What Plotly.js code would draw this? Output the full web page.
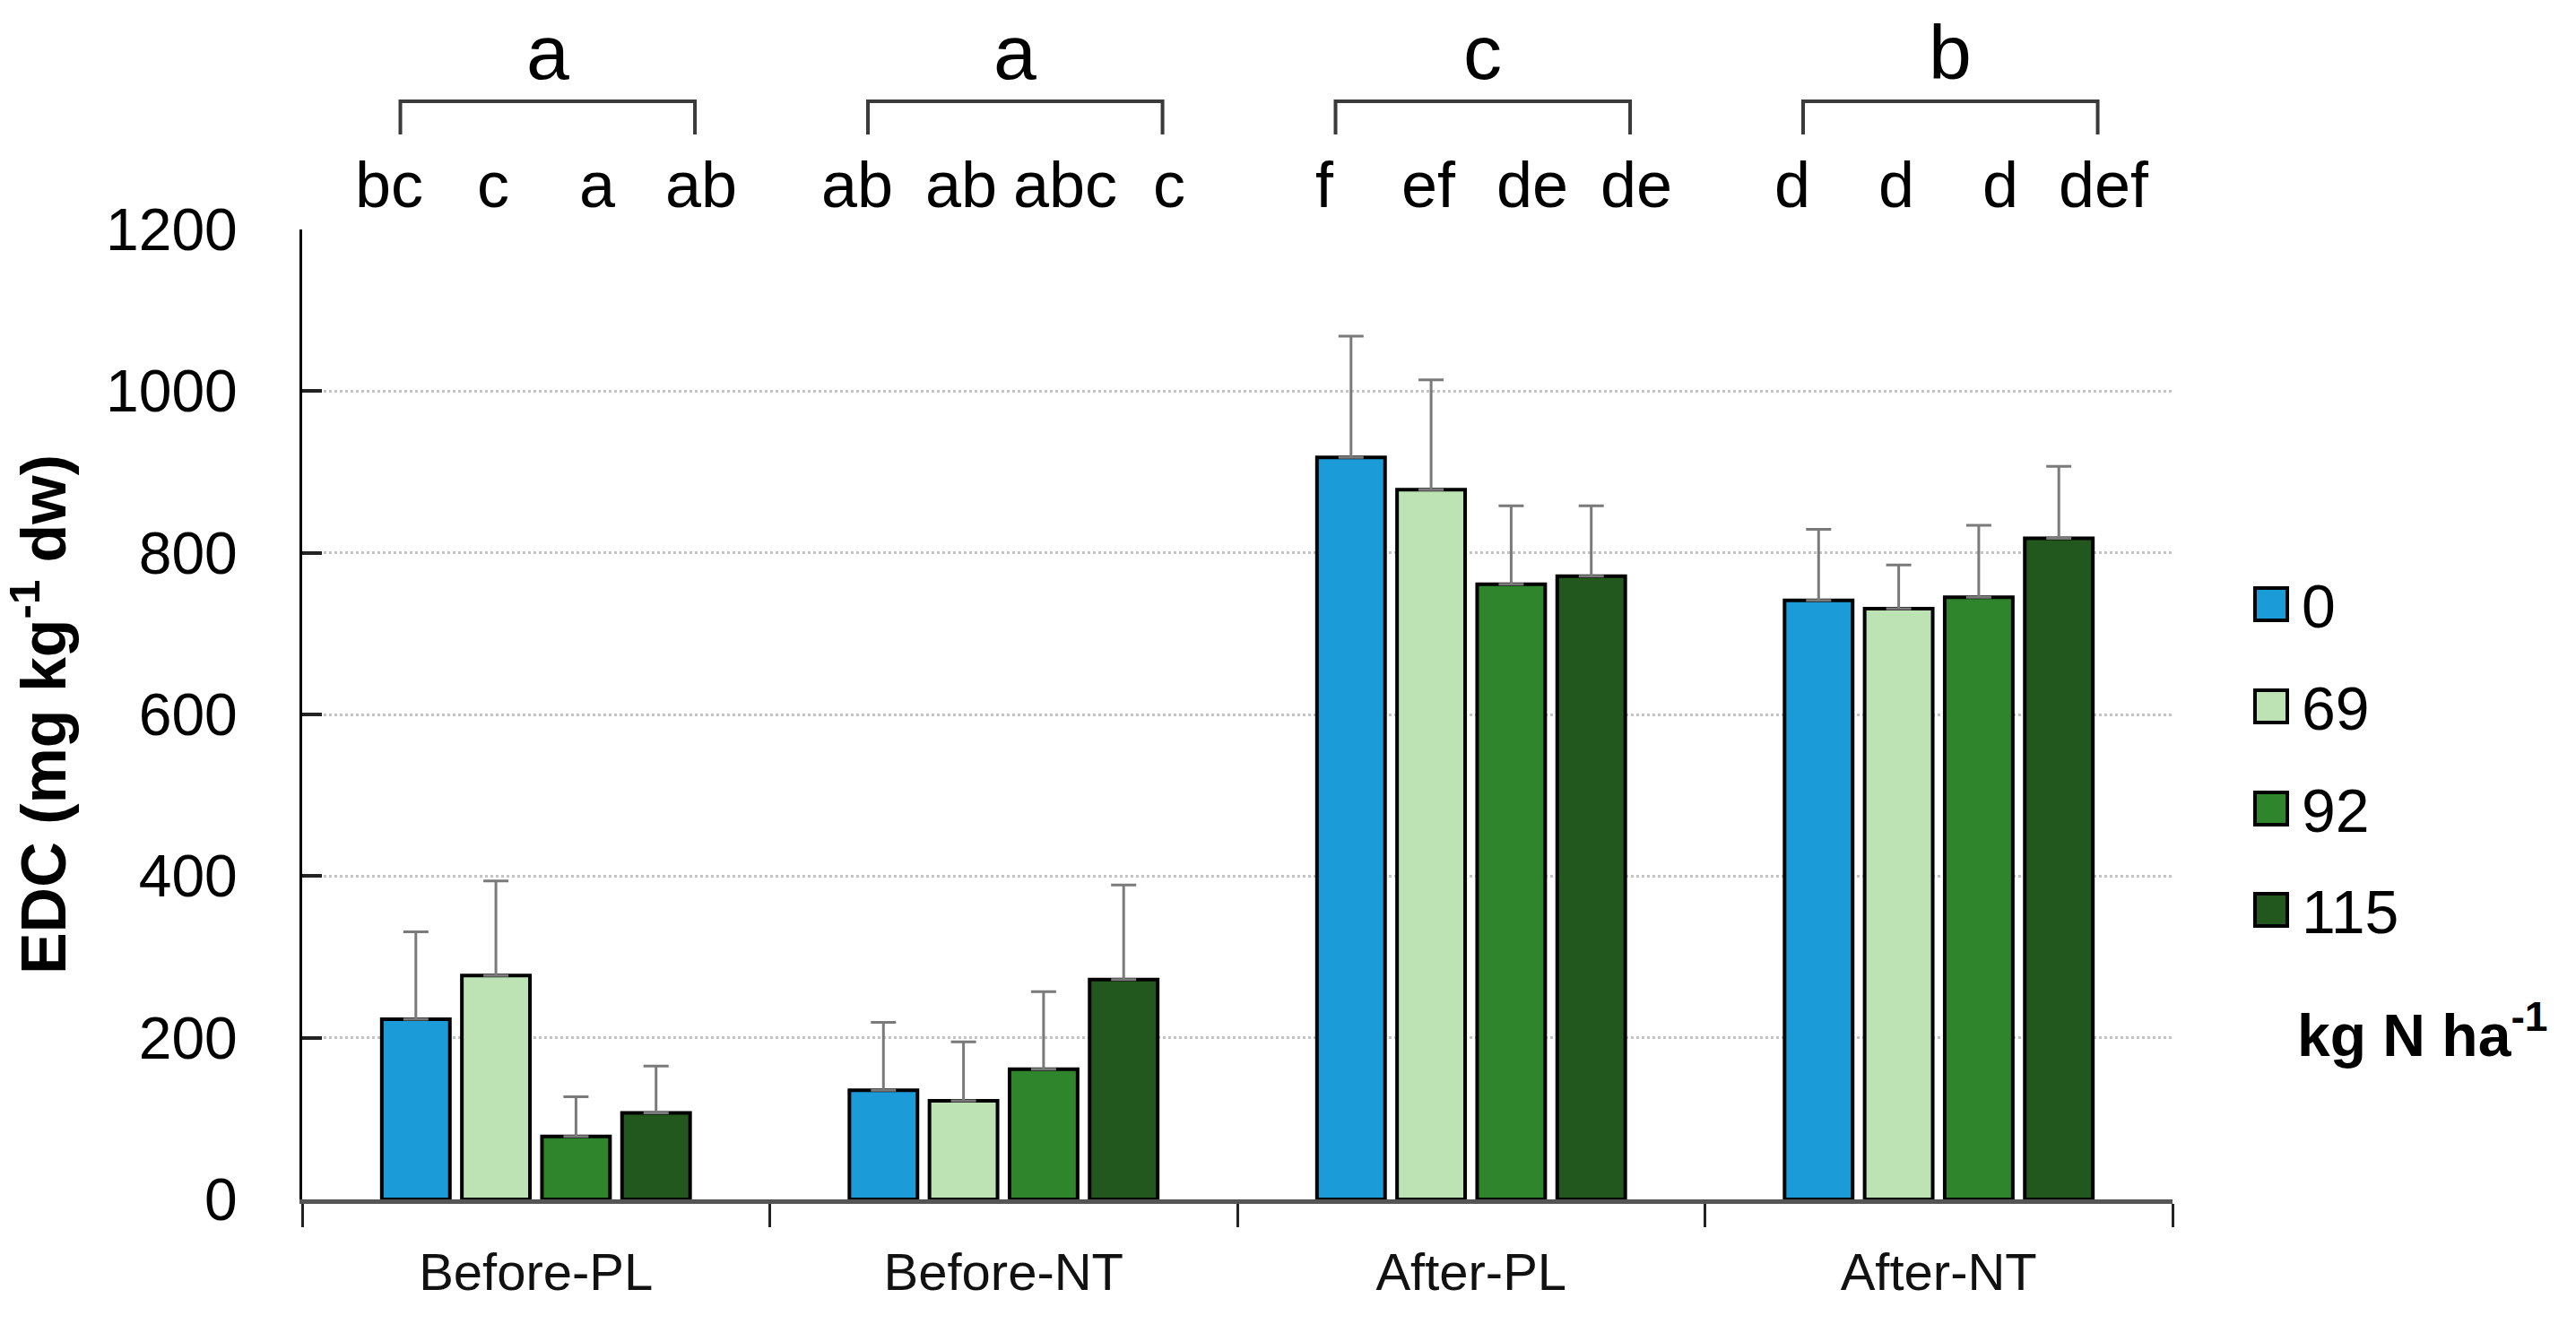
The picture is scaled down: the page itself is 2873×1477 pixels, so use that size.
<!DOCTYPE html>
<html>
<head>
<meta charset="utf-8">
<script src="https://cdn.plot.ly/plotly-3.0.1.min.js"></script>
<style>html,body{margin:0;padding:0;background:#fff;}#chart{width:2873px;height:1477px;}</style>
</head>
<body>
<div id="chart"></div>
<script>
// ---- data ----
const categories = ['Before-PL', 'Before-NT', 'After-PL', 'After-NT'];
const seriesNames = ['0', '69', '92', '115'];
const edc0   = [223, 135, 918, 741];
const edc69  = [277, 122, 878, 731];
const edc92  = [78, 161, 761, 745];
const edc115 = [107, 272, 771, 818];
const se0    = [108, 84, 150, 88];
const se69   = [117, 73, 136, 54];
const se92   = [49, 96, 97, 89];
const se115  = [58, 117, 87, 89];
const groupLetters = ['a', 'a', 'c', 'b'];
const letters0   = ['bc', 'ab', 'f', 'd'];
const letters69  = ['c', 'ab', 'ef', 'd'];
const letters92  = ['a', 'abc', 'de', 'd'];
const letters115 = ['ab', 'c', 'de', 'def'];
const yTicks = [0, 200, 400, 600, 800, 1000, 1200];

// ---- style ----
const colors = ['#1b9bd7', '#bde2b4', '#2f852c', '#22571d'];
const FONT = 'Liberation Sans, Arial, sans-serif';
const W = 2873, H = 1477;
const L = 337, R = 2423, T = 256, B = 1338;
const bargap = 0.315, groupgap = 0.15;

const values = [edc0, edc69, edc92, edc115];
const ses = [se0, se69, se92, se115];
const letters = [letters0, letters69, letters92, letters115];

const px2x = p => (p - L) / (R - L);
const px2y = p => (B - p) / (B - T);
const nCat = categories.length;
const catX = v => (v + 0.5) / nCat; // category-unit -> paper

const traces = seriesNames.map((name, k) => ({
  type: 'bar',
  name: name,
  x: categories,
  y: values[k],
  marker: {color: colors[k], line: {color: '#000', width: 4}},
  error_y: {type: 'data', symmetric: false, array: ses[k], arrayminus: ses[k].map(() => 0),
            color: '#7a7a7a', thickness: 3, width: 14},
  showlegend: false,
  hoverinfo: 'x+y'
}));

const shapes = [];
const annotations = [];
const slot = (1 - bargap) / seriesNames.length;
const spread = 1.3;

categories.forEach((c, i) => {
  const l = catX(i - 0.29), r = catX(i + 0.34);
  const yt = px2y(113), yb = px2y(150);
  shapes.push({type: 'path', xref: 'paper', yref: 'paper',
    path: `M ${l},${yb} L ${l},${yt} L ${r},${yt} L ${r},${yb}`,
    line: {color: '#3a3a3a', width: 4}});
  annotations.push({xref: 'paper', yref: 'paper', x: (l + r) / 2, y: px2y(108),
    xanchor: 'center', yanchor: 'bottom', showarrow: false, text: groupLetters[i],
    font: {family: FONT, size: 86, color: '#000'}});
  seriesNames.forEach((s, k) => {
    annotations.push({xref: 'paper', yref: 'paper',
      x: catX(i + 0.02 + (k - 1.5) * slot * spread), y: px2y(248),
      xanchor: 'center', yanchor: 'bottom', showarrow: false, text: letters[k][i],
      font: {family: FONT, size: 72, color: '#000'}});
  });
});

// manual legend
const legY = [674, 788, 902, 1015];
seriesNames.forEach((s, k) => {
  shapes.push({type: 'rect', xref: 'paper', yref: 'paper',
    x0: px2x(2515), x1: px2x(2551), y0: px2y(legY[k] - 18), y1: px2y(legY[k] + 18),
    fillcolor: colors[k], line: {color: '#000', width: 4}});
  annotations.push({xref: 'paper', yref: 'paper', x: px2x(2565), y: px2y(legY[k] + 2),
    xanchor: 'left', yanchor: 'middle', showarrow: false, text: s,
    font: {family: FONT, size: 68, color: '#000'}});
});
annotations.push({xref: 'paper', yref: 'paper', x: px2x(2560), y: px2y(1150),
  xanchor: 'left', yanchor: 'middle', showarrow: false,
  text: '<b>kg N ha<sup>-1</sup></b>', font: {family: FONT, size: 66, color: '#000'}});

const layout = {
  width: W, height: H,
  margin: {l: L, r: W - R, t: T, b: H - B, pad: 0},
  paper_bgcolor: '#fff', plot_bgcolor: '#fff',
  barmode: 'group', bargap: bargap, bargroupgap: groupgap,
  font: {family: FONT, color: '#000'},
  xaxis: {
    type: 'category', range: [-0.5, 3.5], autorange: false,
    showline: true, linecolor: '#555', linewidth: 5,
    ticks: 'outside', tickson: 'boundaries', ticklen: 26, tickwidth: 3, tickcolor: '#222',
    tickfont: {family: FONT, size: 58, color: '#111'}, ticklabelstandoff: 26,
    showgrid: false, zeroline: false, fixedrange: true
  },
  yaxis: {
    range: [0, 1200], autorange: false, tickvals: yTicks, ticktext: yTicks.map(String),
    showline: true, linecolor: '#000', linewidth: 3,
    ticks: 'inside', ticklen: 22, tickwidth: 4, tickcolor: '#222',
    tickfont: {family: FONT, size: 66, color: '#000'}, ticklabelstandoff: 56,
    showgrid: true, gridcolor: '#c4c4c4', gridwidth: 3, griddash: 'dot',
    zeroline: false, fixedrange: true,
    title: {text: '<b>EDC (mg kg<sup>-1</sup> dw)</b>', font: {family: FONT, size: 70, color: '#000'}, standoff: 22}
  },
  shapes: shapes,
  annotations: annotations,
  showlegend: false
};

Plotly.newPlot('chart', traces, layout, {displayModeBar: false, staticPlot: true});
</script>
</body>
</html>
